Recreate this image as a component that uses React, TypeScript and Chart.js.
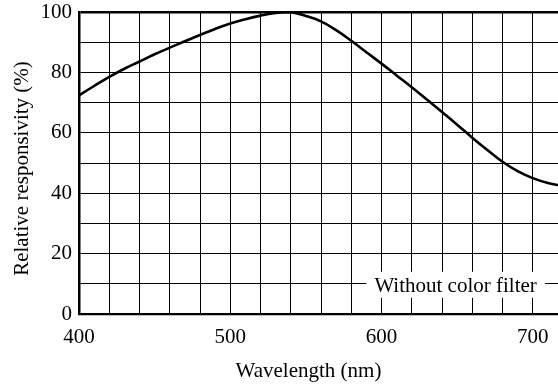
import React, { useEffect, useRef } from 'react';
import { Chart, registerables } from 'chart.js';

Chart.register(...registerables);

const wavelengths = [400, 410, 420, 430, 440, 450, 460, 470, 480, 490, 500, 510, 520, 530, 540, 550, 560, 570, 580, 590, 600, 610, 620, 630, 640, 650, 660, 670, 680, 690, 700, 710, 720];
const responsivity = [72.4, 75.5, 78.5, 81.2, 83.6, 86.0, 88.2, 90.3, 92.4, 94.4, 96.2, 97.6, 98.8, 99.7, 99.9, 98.7, 96.9, 94.0, 90.5, 86.7, 82.9, 79.0, 75.1, 71.0, 66.9, 62.7, 58.4, 54.3, 50.4, 47.3, 45.0, 43.4, 42.4];
const xTickLabels = [400, 500, 600, 700];
const yTickLabels = [0, 20, 40, 60, 80, 100];
const xTitle = 'Wavelength (nm)';
const yTitle = 'Relative responsivity (%)';
const seriesLabel = 'Without color filter';

const FONT = '"Liberation Serif", "Times New Roman", Times, serif';
const FONT_SIZE = 21;

const textPlugin = {
  id: 'textPlugin',
  afterDraw(chart: any) {
    const { ctx, chartArea } = chart;
    const xs = chart.scales.x;
    const ys = chart.scales.y;
    ctx.save();
    ctx.font = `${FONT_SIZE}px ${FONT}`;
    // series label with white box
    const cx = xs.getPixelForValue(649);
    const cy = ys.getPixelForValue(10);
    const w = ctx.measureText(seriesLabel).width;
    ctx.fillStyle = '#fff';
    ctx.fillRect(cx - w / 2 - 8, cy - 12, w + 16, 26);
    ctx.fillStyle = '#000';
    ctx.textAlign = 'center';
    ctx.textBaseline = 'alphabetic';
    ctx.fillText(seriesLabel, cx, cy + 8);
    // x title
    ctx.fillText(xTitle, chartArea.left + 229.5, chartArea.bottom + 63);
    // y title
    ctx.translate(chartArea.left - 51, (chartArea.top + chartArea.bottom) / 2 + 5.5);
    ctx.rotate(-Math.PI / 2);
    ctx.fillText(yTitle, 0, 0);
    ctx.restore();
  },
};

export default function App() {
  const ref = useRef<HTMLCanvasElement>(null);
  useEffect(() => {
    if (!ref.current) return;
    const chart = new Chart(ref.current, {
      type: 'line',
      data: {
        datasets: [
          {
            label: seriesLabel,
            data: wavelengths.map((w, i) => ({ x: w, y: responsivity[i] })),
            borderColor: '#000',
            borderWidth: 2.6,
            pointRadius: 0,
            tension: 0.4,
            fill: false,
          },
        ],
      },
      options: {
        responsive: false,
        animation: false,
        devicePixelRatio: 1,
        layout: { padding: { top: 12, left: 0, right: 3, bottom: 0 } },
        plugins: { legend: { display: false }, tooltip: { enabled: false } },
        scales: {
          x: {
            type: 'linear',
            min: 400,
            max: 720,
            afterFit: (s: any) => { s.height = 75; },
            grid: { color: '#000', lineWidth: 1, drawTicks: false },
            border: { color: '#000', width: 2.2 },
            ticks: {
              stepSize: 20,
              padding: 11,
              color: '#000',
              maxRotation: 0,
              autoSkip: false,
              font: { family: FONT, size: FONT_SIZE },
              callback: (v: any) => (xTickLabels.includes(Number(v)) ? String(v) : ''),
            },
          },
          y: {
            min: 0,
            max: 100,
            afterFit: (s: any) => { s.width = 79; s.paddingTop = 0; s.paddingBottom = 0; },
            grid: {
              color: '#000',
              lineWidth: (c: any) => (c.tick && c.tick.value === 100 ? 2.5 : 1),
              drawTicks: false,
            },
            border: { color: '#000', width: 2.5 },
            ticks: {
              stepSize: 10,
              padding: 7,
              color: '#000',
              autoSkip: false,
              font: { family: FONT, size: FONT_SIZE },
              callback: (v: any) => (yTickLabels.includes(Number(v)) ? String(v) : ''),
            },
          },
        },
      },
      plugins: [textPlugin],
    });
    return () => chart.destroy();
  }, []);
  return (
    <div style={{ position: 'fixed', left: 0, top: 0, width: 558, height: 389, overflow: 'hidden', background: '#fff' }}>
      <canvas ref={ref} width={574} height={389} style={{ width: 574, height: 389, display: 'block' }} />
    </div>
  );
}
